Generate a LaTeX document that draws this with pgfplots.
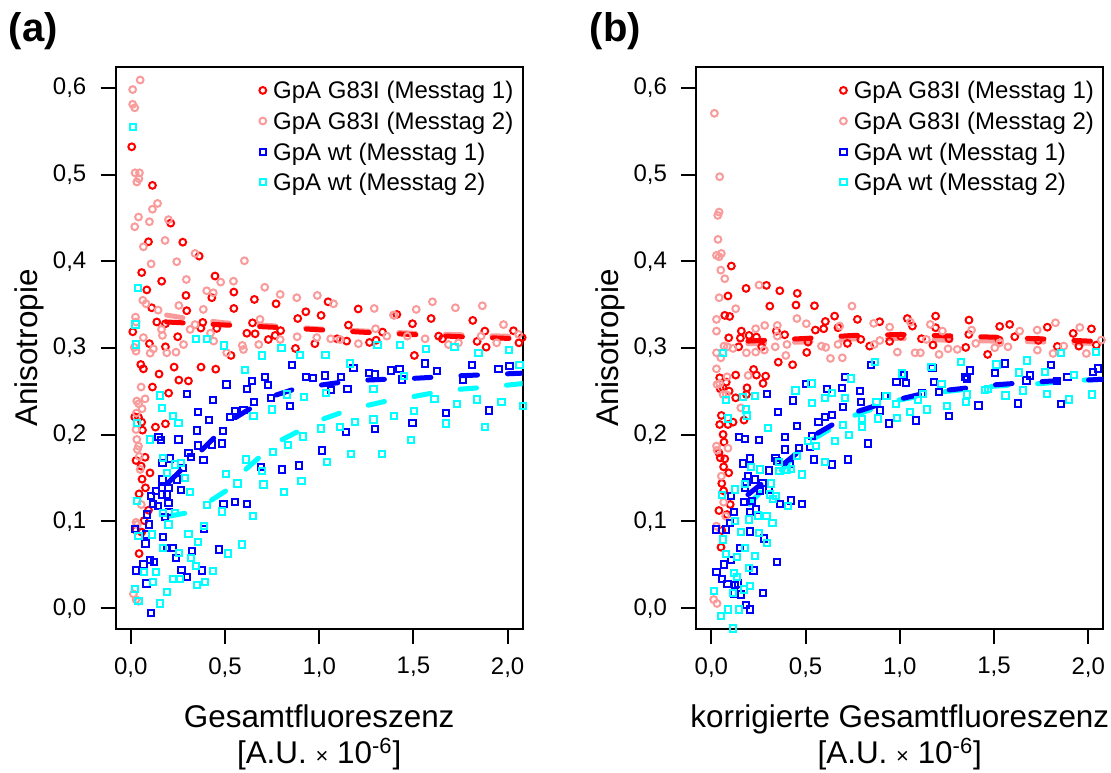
\documentclass[border=0pt]{standalone}
\usepackage{fontspec}
\setmainfont{Liberation Sans}
\usepackage{pgfplots}
\pgfplotsset{compat=1.18}
\definecolor{Rd}{RGB}{255,0,0}
\definecolor{Sal}{RGB}{250,155,155}
\definecolor{Bl}{RGB}{0,0,255}
\definecolor{Cy}{RGB}{0,255,255}
\pgfplotsset{
  panel/.style={
    scale only axis, width=203.5pt, height=281pt,
    xmin=-0.08, xmax=2.08, ymin=-0.024, ymax=0.624,
    axis line style={line width=1pt},
    every tick/.style={black, line width=1pt},
    tick align=outside, major tick length=7.5pt,
    tick pos=left,
    xtick={0,0.5,1,1.5,2}, xticklabels={{0,0},{0,5},{1,0},{1,5},{2,0}},
    ytick={0,0.1,0.2,0.3,0.4,0.5,0.6},
    yticklabels={{0,0},{0,1},{0,2},{0,3},{0,4},{0,5},{0,6}},
    ticklabel style={font=\fontsize{12}{14}\selectfont},
    xticklabel style={anchor=north, inner sep=0pt, yshift=-6.5pt},
    yticklabel style={anchor=east, inner sep=0pt, xshift=-7pt},
    every axis y label/.style={at={(axis description cs:-0.1916,0.5)}, rotate=90, anchor=base, inner sep=0pt, font=\fontsize{15.7}{18}\selectfont},
    every axis x label/.style={at={(axis description cs:0.5,-0.1349)}, anchor=north, inner sep=0pt, align=center, font=\fontsize{15.7}{18}\selectfont},
    legend style={at={(1,1)}, anchor=north east, xshift=-4.7pt, yshift=-7.3pt, draw=none, fill=none, inner sep=0pt, outer sep=0pt, row sep=6.5pt, column sep=0pt, font=\fontsize{12}{14}\selectfont, nodes={inner sep=0pt, text height=8.6pt, text depth=0.2pt}},
    legend cell align=left,
    legend image code/.code={\path[draw=none] (-2.2pt,0pt) -- (5.2pt,0pt); \draw[##1] plot coordinates {(0pt,0pt)};},
  },
  circR/.style={only marks, mark=o, mark size=1.7pt, draw=Rd, mark options={line width=1pt, draw=Rd}},
  circS/.style={only marks, mark=o, mark size=1.7pt, draw=Sal, mark options={line width=1pt, draw=Sal}},
  sqB/.style={only marks, mark=square, mark size=1.55pt, draw=Bl, mark options={line width=1pt, draw=Bl}},
  sqC/.style={only marks, mark=square, mark size=1.55pt, draw=Cy, mark options={line width=1pt, draw=Cy}},
  fitline/.style={no marks, line width=2.5pt, line cap=round, dash pattern=on 8.3pt off 15pt, forget plot},
}
\begin{document}
\begin{tikzpicture}
\useasboundingbox (0pt,0pt) rectangle (555.5pt,386pt);
\node[anchor=base west, inner sep=0pt, font=\bfseries\fontsize{20}{24}\selectfont] at (4.15pt,365.15pt) {(a)};
\node[anchor=base west, inner sep=0pt, font=\bfseries\fontsize{20}{24}\selectfont] at (294.65pt,365.15pt) {(b)};
% ---------------- panel (a)
\begin{axis}[panel, at={(57.85pt,71.5pt)}, anchor=south west,
  ylabel={Anisotropie},
  xlabel={Gesamtfluoreszenz\\{}[A.U. {\fontsize{11}{11}\selectfont ×} 10\textsuperscript{-6}]}]
\addplot[circR] coordinates {(0.005,0.532)(0.115,0.4875)(0.212,0.444)(0.094,0.4225)(0.276,0.422)(0.363,0.406)(0.058,0.387)(0.164,0.377)(0.085,0.367)(0.447,0.383)(0.293,0.3606)(0.43,0.358)(0.547,0.3645)(0.111,0.3464)(0.297,0.343)(0.547,0.3456)(0.138,0.330)(0.184,0.328)(0.656,0.356)(0.771,0.351)(1.047,0.3533)(0.929,0.3418)(1.01,0.3376)(0.886,0.334)(0.646,0.329)(0.382,0.3295)(0.456,0.3226)(0.372,0.323)(0.616,0.317)(0.66,0.3164)(0.766,0.3145)(0.795,0.32)(0.249,0.313)(0.0106,0.3187)(0.099,0.305)(0.184,0.3014)(0.532,0.2914)(0.73,0.3098)(0.874,0.2995)(0.977,0.305)(1.095,0.3106)(1.146,0.308)(1.155,0.3264)(1.207,0.345)(1.267,0.3064)(1.302,0.309)(1.336,0.3184)(1.412,0.3387)(1.495,0.328)(1.505,0.2914)(1.594,0.334)(1.634,0.3137)(1.654,0.3106)(1.815,0.3318)(1.838,0.3076)(1.879,0.3195)(1.886,0.301)(2.031,0.3199)(2.06,0.306)(2.077,0.312)(0.053,0.281)(0.067,0.276)(0.15,0.270)(0.23,0.278)(0.255,0.263)(0.306,0.262)(0.373,0.278)(0.451,0.2756)(0.115,0.255)(0.201,0.248)(0.021,0.2206)(0.041,0.220)(0.058,0.2145)(0.131,0.2088)(0.184,0.2126)(0.062,0.2053)(0.028,0.1703)(0.055,0.1638)(0.076,0.174)(0.102,0.156)(0.06,0.1488)(0.078,0.1388)(0.044,0.1318)(0.094,0.113)(0.071,0.101)(0.028,0.09)(0.058,0.0877)(0.044,0.063)};
\addlegendentry{GpA G83I (Messtag 1)}
\addplot[circS] coordinates {(0.05,0.609)(0.01,0.598)(0.01,0.581)(0.021,0.577)(0.023,0.502)(0.046,0.502)(0.032,0.4914)(0.043,0.4952)(0.142,0.4667)(0.115,0.460)(0.041,0.451)(0.021,0.4398)(0.099,0.4456)(0.2,0.448)(0.182,0.424)(0.067,0.4167)(0.108,0.397)(0.244,0.3995)(0.341,0.409)(0.295,0.379)(0.603,0.4006)(0.403,0.366)(0.438,0.3637)(0.477,0.376)(0.545,0.377)(0.064,0.355)(0.081,0.351)(0.145,0.3437)(0.255,0.349)(0.385,0.3445)(0.711,0.370)(0.793,0.3618)(0.881,0.358)(0.99,0.3606)(1.076,0.351)(1.292,0.3456)(1.394,0.338)(1.515,0.3445)(1.601,0.3533)(1.723,0.3464)(1.866,0.3487)(1.978,0.327)(0.025,0.3356)(0.028,0.3299)(0.019,0.3007)(0.028,0.2964)(0.067,0.312)(0.163,0.3214)(0.168,0.3145)(0.315,0.3214)(0.28,0.304)(0.341,0.327)(0.423,0.317)(0.44,0.308)(0.509,0.2945)(0.592,0.303)(0.598,0.2983)(0.679,0.304)(0.686,0.333)(0.793,0.3098)(0.883,0.313)(0.987,0.312)(1.061,0.3106)(1.111,0.3098)(1.208,0.305)(1.299,0.3222)(1.359,0.3137)(1.398,0.3376)(1.468,0.3137)(1.562,0.3106)(1.686,0.304)(1.739,0.306)(1.859,0.3137)(1.942,0.306)(2.058,0.3157)(0.103,0.294)(0.191,0.2945)(0.24,0.2952)(0.12,0.299)(0.055,0.255)(0.032,0.2388)(0.042,0.2357)(0.076,0.2414)(0.032,0.1946)(0.041,0.1868)(0.035,0.183)(0.028,0.206)(0.056,0.1195)(0.028,0.099)(0.035,0.0965)(0.014,0.0165)(0.028,0.010)(0.041,0.008)(0.05,0.16)(0.03,0.225)(0.06,0.23)(0.045,0.175)};
\addlegendentry{GpA G83I (Messtag 2)}
\addplot[sqB] coordinates {(0.854,0.2803)(0.508,0.258)(0.642,0.262)(0.616,0.253)(0.713,0.2668)(0.727,0.2576)(0.931,0.2664)(0.969,0.2656)(1.029,0.2684)(1.114,0.2664)(1.182,0.2772)(1.063,0.2515)(1.15,0.253)(1.263,0.2714)(1.295,0.2695)(1.38,0.274)(1.426,0.276)(1.438,0.2637)(1.562,0.2822)(1.624,0.2733)(1.765,0.2637)(1.81,0.2803)(1.952,0.276)(2.01,0.279)(1.672,0.2253)(1.903,0.228)(1.495,0.2138)(1.298,0.2068)(1.143,0.203)(1.015,0.1818)(0.893,0.1645)(0.801,0.160)(0.692,0.163)(0.844,0.233)(0.745,0.2422)(0.656,0.2376)(0.555,0.2276)(0.598,0.2284)(0.527,0.2203)(0.437,0.240)(0.415,0.2172)(0.357,0.2265)(0.297,0.2472)(0.488,0.2046)(0.483,0.190)(0.35,0.2049)(0.355,0.1876)(0.386,0.1707)(0.43,0.1888)(0.306,0.1792)(0.32,0.1745)(0.253,0.1946)(0.159,0.1938)(0.147,0.1976)(0.168,0.1676)(0.207,0.1726)(0.279,0.1618)(0.168,0.1484)(0.2,0.1388)(0.244,0.1484)(0.267,0.136)(0.166,0.1388)(0.134,0.135)(0.164,0.131)(0.106,0.1292)(0.191,0.131)(0.2,0.1215)(0.143,0.1176)(0.117,0.120)(0.204,0.1107)(0.182,0.1053)(0.085,0.108)(0.097,0.0965)(0.023,0.0915)(0.081,0.085)(0.078,0.0746)(0.173,0.0823)(0.191,0.0696)(0.221,0.0696)(0.387,0.0915)(0.492,0.1203)(0.555,0.1227)(0.617,0.12)(0.469,0.0677)(0.324,0.0661)(0.242,0.0580)(0.104,0.056)(0.124,0.053)(0.067,0.0503)(0.028,0.0434)(0.269,0.0438)(0.38,0.0434)(0.297,0.0357)(0.083,0.0284)(0.106,-0.0054)};
\addlegendentry{GpA wt (Messtag 1)}
\addplot[sqC] coordinates {(0.011,0.5548)(0.04,0.3695)(0.025,0.327)(0.028,0.3041)(0.347,0.310)(0.403,0.3106)(0.495,0.303)(1.309,0.3034)(1.43,0.3034)(1.566,0.2984)(1.718,0.3014)(0.695,0.2914)(0.8,0.3003)(0.898,0.2918)(1.033,0.2918)(1.845,0.2945)(2.008,0.2976)(0.155,0.2453)(0.164,0.231)(0.226,0.2215)(0.253,0.2138)(0.102,0.1946)(0.032,0.2138)(0.17,0.1734)(0.191,0.1561)(0.235,0.1657)(0.265,0.1676)(0.288,0.1503)(0.315,0.1342)(0.032,0.1234)(0.173,0.110)(0.235,0.110)(0.2,0.0965)(0.111,0.085)(0.041,0.083)(0.306,0.0857)(0.355,0.0761)(0.173,0.0696)(0.256,0.0638)(0.318,0.058)(0.345,0.0484)(0.134,0.0415)(0.072,0.0415)(0.435,0.043)(0.226,0.0338)(0.263,0.0338)(0.12,0.030)(0.353,0.0265)(0.394,0.030)(0.023,0.0223)(0.191,0.0184)(0.155,0.0054)(0.041,0.008)(0.389,0.0946)(0.589,0.0734)(0.518,0.063)(0.484,0.1115)(0.405,0.1188)(0.648,0.106)(0.504,0.155)(0.566,0.1438)(0.704,0.1426)(0.815,0.1338)(0.906,0.1465)(0.695,0.158)(0.61,0.1715)(0.754,0.1803)(0.833,0.188)(0.916,0.198)(1.04,0.169)(1.169,0.178)(1.332,0.178)(1.191,0.2146)(1.11,0.2088)(1.008,0.2073)(1.288,0.2176)(1.398,0.2215)(1.486,0.1938)(1.504,0.2272)(1.674,0.213)(1.73,0.235)(1.88,0.209)(1.967,0.2376)(2.08,0.233)(1.612,0.2415)(1.836,0.2407)(1.288,0.2530)(0.92,0.2437)(0.828,0.2465)(0.748,0.2292)(0.651,0.2215)(0.607,0.2745)(1.164,0.2822)(1.037,0.2484)(1.45,0.2676)(2.063,0.280)};
\addlegendentry{GpA wt (Messtag 2)}
\addplot[fitline, Sal] coordinates {(0.19,0.338)(0.3,0.334)(0.5,0.329)(0.8,0.325)(1.0,0.322)(1.5,0.317)(2.08,0.313)};
\addplot[fitline, Rd] coordinates {(0.19,0.330)(0.5,0.3265)(0.8,0.3235)(1.0,0.321)(1.25,0.318)(1.5,0.3155)(1.75,0.313)(2.08,0.3105)};
\addplot[fitline, Cy] coordinates {(0.2,0.106)(0.3,0.110)(0.42,0.1234)(0.51,0.136)(0.61,0.16)(0.68,0.1735)(0.8,0.194)(0.89,0.204)(1.02,0.218)(1.11,0.225)(1.26,0.234)(1.36,0.239)(1.5,0.244)(1.6,0.248)(1.74,0.2523)(1.85,0.2542)(1.99,0.257)(2.08,0.259)};
\addplot[fitline, Bl] coordinates {(0.2,0.145)(0.28,0.162)(0.37,0.181)(0.45,0.198)(0.55,0.219)(0.64,0.231)(0.76,0.245)(0.86,0.252)(1.0,0.257)(1.1,0.260)(1.25,0.263)(1.36,0.264)(1.5,0.265)(1.75,0.268)(2.08,0.271)};
\end{axis}
% ---------------- panel (b)
\begin{axis}[panel, at={(348.15pt,71.5pt)}, anchor=south west,
  ylabel={Anisotropie},
  xlabel={korrigierte Gesamtfluoreszenz\\{}[A.U. {\fontsize{11}{11}\selectfont ×} 10\textsuperscript{-6}]}]
\addplot[circR] coordinates {(0.106,0.3945)(0.088,0.360)(0.184,0.3687)(0.292,0.3722)(0.363,0.366)(0.456,0.363)(0.31,0.3483)(0.449,0.3495)(0.547,0.3487)(0.071,0.3376)(0.097,0.3364)(0.654,0.3368)(0.605,0.3306)(0.775,0.333)(0.893,0.3303)(1.04,0.334)(1.067,0.3253)(1.19,0.3368)(1.19,0.3234)(1.367,0.3322)(1.53,0.3249)(1.583,0.3272)(1.783,0.324)(2.017,0.322)(0.159,0.3195)(0.154,0.3114)(0.092,0.3118)(0.2,0.3145)(0.239,0.3126)(0.267,0.3014)(0.145,0.3014)(0.345,0.3195)(0.389,0.3153)(0.513,0.3068)(0.506,0.2949)(0.552,0.3207)(0.596,0.3222)(0.672,0.3234)(0.722,0.3053)(0.793,0.3099)(0.84,0.3022)(0.946,0.3076)(1.005,0.3137)(1.115,0.3107)(1.176,0.3034)(1.261,0.3107)(1.35,0.3007)(1.366,0.3157)(1.466,0.2926)(1.527,0.3091)(1.61,0.313)(1.735,0.3088)(1.836,0.3018)(1.92,0.3168)(1.95,0.3022)(2.043,0.3034)(0.355,0.2837)(0.431,0.2807)(0.224,0.2753)(0.239,0.2688)(0.288,0.2676)(0.274,0.2592)(0.189,0.2541)(0.186,0.2464)(0.044,0.2657)(0.079,0.2607)(0.062,0.2541)(0.094,0.2503)(0.047,0.253)(0.129,0.2426)(0.129,0.2688)(0.173,0.2169)(0.115,0.2145)(0.088,0.2118)(0.044,0.2118)(0.053,0.2222)(0.062,0.2003)(0.067,0.1915)(0.04,0.1792)(0.047,0.1734)(0.071,0.1722)(0.065,0.163)(0.092,0.1561)(0.055,0.1438)(0.065,0.1353)(0.1,0.1196)(0.04,0.1126)(0.083,0.108)(0.055,0.0896)(0.051,0.0703)};
\addlegendentry{GpA G83I (Messtag 1)}
\addplot[circS] coordinates {(0.016,0.5706)(0.044,0.4975)(0.041,0.4567)(0.034,0.4529)(0.035,0.4252)(0.027,0.4068)(0.041,0.4052)(0.053,0.409)(0.05,0.3898)(0.071,0.3799)(0.041,0.358)(0.129,0.3453)(0.027,0.333)(0.027,0.3195)(0.253,0.3726)(0.283,0.326)(0.235,0.3222)(0.454,0.334)(0.504,0.328)(0.35,0.326)(0.35,0.3137)(0.746,0.3483)(0.681,0.3253)(0.861,0.3284)(0.946,0.3241)(1.056,0.3299)(1.162,0.3272)(1.226,0.3195)(1.381,0.3207)(1.53,0.3061)(1.636,0.3195)(1.729,0.3207)(1.826,0.3291)(1.955,0.3237)(2.07,0.3091)(0.067,0.3022)(0.085,0.3014)(0.115,0.2995)(0.027,0.2945)(0.05,0.2887)(0.186,0.2945)(0.235,0.2953)(0.281,0.2976)(0.339,0.3014)(0.401,0.3041)(0.395,0.2914)(0.584,0.3022)(0.607,0.3007)(0.672,0.3041)(0.695,0.2887)(0.864,0.3041)(0.894,0.3087)(0.987,0.2953)(1.081,0.2945)(1.109,0.2945)(1.141,0.3099)(1.208,0.2926)(1.256,0.2991)(1.305,0.2984)(1.403,0.3053)(1.504,0.3003)(1.574,0.3014)(1.73,0.2976)(1.813,0.2937)(1.87,0.3022)(1.99,0.2937)(0.632,0.288)(0.027,0.2760)(0.044,0.2591)(0.03,0.258)(0.062,0.2464)(0.079,0.2464)(0.156,0.231)(0.083,0.2668)(0.195,0.2684)(0.027,0.1869)(0.088,0.1845)(0.03,0.1822)(0.053,0.1522)(0.065,0.1222)(0.027,0.0946)(0.076,0.1061)(0.012,0.010)(0.03,0.0054)};
\addlegendentry{GpA G83I (Messtag 2)}
\addplot[sqB] coordinates {(0.849,0.2803)(1.173,0.2772)(1.557,0.2822)(1.371,0.274)(1.345,0.2664)(1.357,0.2645)(1.504,0.2714)(1.693,0.2684)(1.801,0.2803)(1.89,0.2668)(2.026,0.2722)(2.052,0.2764)(1.672,0.2626)(1.836,0.2618)(1.627,0.2361)(1.857,0.2357)(1.418,0.2338)(1.261,0.2219)(1.084,0.2165)(0.943,0.213)(0.893,0.228)(0.831,0.190)(1.183,0.2611)(1.208,0.2495)(0.982,0.2611)(1.031,0.2599)(1.021,0.2687)(0.923,0.2445)(1.118,0.2476)(0.789,0.2503)(0.794,0.2376)(0.699,0.2318)(0.695,0.2541)(0.711,0.2668)(0.614,0.253)(0.605,0.2207)(0.64,0.2226)(0.568,0.2149)(0.504,0.2587)(0.433,0.2395)(0.354,0.2261)(0.295,0.2472)(0.456,0.2103)(0.391,0.1976)(0.536,0.1984)(0.522,0.1857)(0.465,0.1849)(0.391,0.183)(0.543,0.1715)(0.64,0.1657)(0.723,0.1715)(0.34,0.1734)(0.35,0.1695)(0.419,0.1665)(0.306,0.1588)(0.253,0.1938)(0.179,0.1953)(0.147,0.1972)(0.203,0.1726)(0.168,0.1668)(0.194,0.1522)(0.23,0.1484)(0.271,0.1445)(0.186,0.1453)(0.179,0.1388)(0.256,0.135)(0.304,0.1361)(0.217,0.1234)(0.175,0.1222)(0.203,0.1111)(0.235,0.1138)(0.366,0.1203)(0.424,0.1242)(0.479,0.1203)(0.103,0.1292)(0.118,0.1111)(0.097,0.0984)(0.079,0.0907)(0.023,0.0907)(0.203,0.0884)(0.279,0.0803)(0.15,0.0696)(0.103,0.0553)(0.067,0.0503)(0.348,0.0534)(0.224,0.0434)(0.027,0.0419)(0.058,0.0338)(0.085,0.0280)(0.124,0.0265)(0.141,0.0284)(0.12,0.0169)(0.159,0.0157)(0.274,0.0177)(0.182,0.0035)(0.203,-0.0015)};
\addlegendentry{GpA wt (Messtag 1)}
\addplot[sqC] coordinates {(0.867,0.2837)(1.012,0.2707)(1.168,0.2784)(1.323,0.2837)(1.513,0.281)(1.676,0.2856)(1.769,0.2726)(1.925,0.2691)(2.04,0.2957)(1.857,0.2945)(1.631,0.2718)(1.654,0.2511)(1.561,0.2453)(1.783,0.2472)(1.898,0.2407)(2.022,0.2464)(1.468,0.253)(1.35,0.238)(1.357,0.2464)(1.451,0.2515)(1.251,0.233)(1.221,0.2587)(1.146,0.2292)(1.056,0.2261)(1.097,0.2399)(1.123,0.2472)(0.987,0.2196)(0.978,0.2357)(0.929,0.2445)(0.886,0.2188)(0.876,0.2376)(0.801,0.2184)(0.801,0.2092)(0.741,0.2649)(0.711,0.2426)(0.699,0.2111)(0.655,0.1926)(0.731,0.1995)(0.605,0.2426)(0.642,0.2484)(0.531,0.2591)(0.536,0.2368)(0.446,0.2511)(0.601,0.1684)(0.557,0.1869)(0.513,0.1926)(0.483,0.1542)(0.456,0.1753)(0.424,0.1607)(0.403,0.1592)(0.362,0.158)(0.357,0.1688)(0.3,0.208)(0.182,0.2291)(0.189,0.2222)(0.168,0.2434)(0.23,0.2445)(0.088,0.2188)(0.079,0.2399)(0.256,0.16)(0.209,0.163)(0.318,0.1438)(0.31,0.131)(0.345,0.1292)(0.407,0.1176)(0.327,0.1261)(0.177,0.143)(0.124,0.1369)(0.058,0.1303)(0.248,0.1069)(0.292,0.1061)(0.324,0.0984)(0.198,0.1023)(0.124,0.1004)(0.159,0.0877)(0.253,0.0869)(0.295,0.0753)(0.062,0.0792)(0.177,0.0696)(0.232,0.06)(0.136,0.0592)(0.079,0.0627)(0.2,0.0465)(0.118,0.0407)(0.136,0.0361)(0.203,0.0254)(0.173,0.0215)(0.115,0.0177)(0.012,0.0196)(0.088,-0.0015)(0.147,-0.0015)(0.05,-0.0092)(0.115,-0.0234)(0.062,0.2945)};
\addlegendentry{GpA wt (Messtag 2)}
\addplot[fitline, Sal] coordinates {(0.194,0.305)(0.5,0.307)(0.75,0.3105)(1.0,0.311)(1.25,0.309)(1.5,0.308)(1.75,0.307)(2.08,0.305)};
\addplot[fitline, Rd] coordinates {(0.194,0.308)(0.3,0.309)(0.5,0.311)(0.75,0.3145)(1.0,0.3155)(1.25,0.314)(1.5,0.3125)(1.75,0.3105)(2.0,0.308)(2.08,0.3075)};
\addplot[fitline, Cy] coordinates {(0.2,0.12)(0.36,0.156)(0.5,0.19)(0.75,0.2215)(0.97,0.239)(1.25,0.25)(1.5,0.256)(1.75,0.259)(1.93,0.2626)(2.08,0.264)};
\addplot[fitline, Bl] coordinates {(0.194,0.131)(0.274,0.1446)(0.38,0.1657)(0.455,0.179)(0.531,0.1977)(0.645,0.2119)(0.778,0.227)(0.876,0.2338)(1.008,0.2415)(1.115,0.247)(1.256,0.2515)(1.353,0.2538)(1.5,0.2575)(1.6,0.259)(1.74,0.261)(1.85,0.2625)(1.99,0.263)(2.08,0.264)};
\end{axis}
\end{tikzpicture}
\end{document}
